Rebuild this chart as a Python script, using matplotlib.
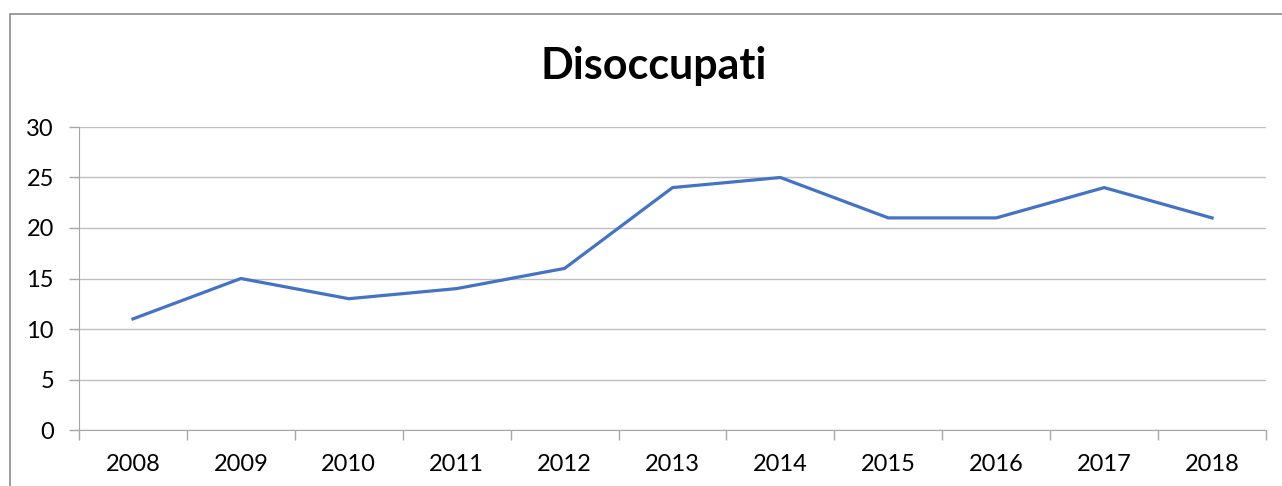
import matplotlib
matplotlib.use("Agg")
from matplotlib import pyplot as plt
from matplotlib.patches import Rectangle
import numpy as np

years = ["2008", "2009", "2010", "2011", "2012", "2013", "2014", "2015", "2016", "2017", "2018"]
disoccupati = [11, 15, 13, 14, 16, 24, 25, 21, 21, 24, 21]
y_ticks = [0, 5, 10, 15, 20, 25, 30]

plt.rcParams['font.family'] = ['Lato', 'DejaVu Sans']

fig = plt.figure(figsize=(12.82, 4.86), dpi=100)
fig.patches.append(Rectangle((10 / 1282, -0.1), 2, 1.1 - 14 / 486, transform=fig.transFigure,
                             fill=False, edgecolor="#8c8c8c", linewidth=1.2))

ax = fig.add_axes([79 / 1282, 1 - 430 / 486, (1266 - 79) / 1282, (430 - 127) / 486])
x = np.arange(len(years))
ax.plot(x, disoccupati, color="#4472C4", linewidth=2.3, solid_joinstyle="round")

ax.set_xlim(-0.5, len(years) - 0.5)
ax.set_ylim(0, 30)
ax.set_yticks(y_ticks)
ax.set_yticklabels([str(v) for v in y_ticks], fontsize=17)
ax.set_xticks(x)
ax.set_xticklabels(years, fontsize=17)
ax.set_xticks(np.arange(-0.5, len(years)), minor=True)
ax.tick_params(axis="x", which="major", length=0, pad=17)
ax.tick_params(axis="x", which="minor", length=7, color="#a6a6a6", width=1)
ax.tick_params(axis="y", length=7, color="#a6a6a6", width=1, pad=11)

ax.grid(axis="y", color="#bfbfbf", linewidth=1)
ax.set_axisbelow(True)
for s in ["top", "right"]:
    ax.spines[s].set_visible(False)
ax.spines["left"].set_color("#a6a6a6")
ax.spines["bottom"].set_color("#a6a6a6")

fig.text(654 / 1282, 1 - 66 / 486, "Disoccupati", ha="center", va="center", fontsize=31, fontweight="bold")

fig.savefig("out.png", dpi=100)
